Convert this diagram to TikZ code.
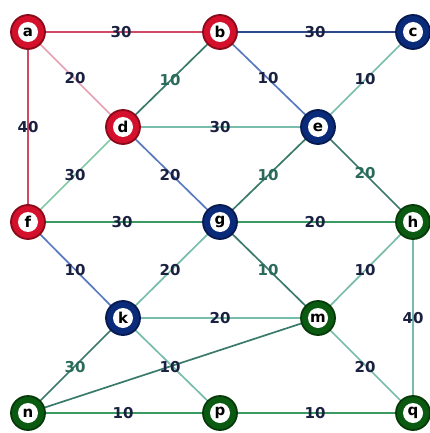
\documentclass[tikz,border=0pt]{standalone}
\usepackage{fontspec}
\setmainfont{DejaVu Sans}
\definecolor{rfill}{HTML}{D4102C}
\definecolor{rbord}{HTML}{8A0A1A}
\definecolor{bfill}{HTML}{0A2A7A}
\definecolor{bbord}{HTML}{061A50}
\definecolor{gfill}{HTML}{0B5A12}
\definecolor{gbord}{HTML}{063A08}
\definecolor{ered}{HTML}{D04A66}
\definecolor{epink}{HTML}{E8A0B2}
\definecolor{edblue}{HTML}{2A4A8A}
\definecolor{eblue}{HTML}{5A7AC0}
\definecolor{eteal}{HTML}{78BCAC}
\definecolor{edteal}{HTML}{3A7A6A}
\definecolor{egreen}{HTML}{3A9A62}
\definecolor{elgreen}{HTML}{84C8A4}
\definecolor{lnavy}{HTML}{1A2040}
\definecolor{lteal}{HTML}{2A6A5A}
\tikzset{
  x=1pt, y=-1pt,
  vert/.style={circle, minimum size=34pt, inner sep=0pt, line width=1.8pt},
  rv/.style={vert, fill=rfill, draw=rbord},
  bv/.style={vert, fill=bfill, draw=bbord},
  gv/.style={vert, fill=gfill, draw=gbord},
  vlab/.style={circle, fill=white, minimum size=20pt, inner sep=0pt,
    font=\bfseries\fontsize{15}{15}\selectfont, text=black},
  lab/.style={font=\bfseries\fontsize{15}{15}\selectfont, text=lnavy, inner sep=0pt},
  labt/.style={lab, text=lteal},
  edge/.style={line width=1.7pt}
}
\begin{document}
\begin{tikzpicture}
\useasboundingbox (0,0) rectangle (430,433);
% coordinates for node centres
\coordinate (A) at (28,32);  \coordinate (B) at (220,32);  \coordinate (C) at (413,32);
\coordinate (D) at (123,127); \coordinate (E) at (318,127);
\coordinate (F) at (28,222); \coordinate (G) at (220,222); \coordinate (H) at (413,222);
\coordinate (K) at (123,318); \coordinate (M) at (318,318);
\coordinate (N) at (28,413); \coordinate (P) at (220,413); \coordinate (Q) at (413,413);
% edges
\draw[edge, ered] (A) -- (B);
\draw[edge, ered] (A) -- (F);
\draw[edge, epink] (A) -- (D);
\draw[edge, edblue] (B) -- (C);
\draw[edge, eblue] (B) -- (E);
\draw[edge, eblue] (D) -- (G);
\draw[edge, eblue] (F) -- (K);
\draw[edge, edteal] (B) -- (D);
\draw[edge, eteal] (C) -- (E);
\draw[edge, eteal] (D) -- (E);
\draw[edge, elgreen] (D) -- (F);
\draw[edge, egreen] (F) -- (G);
\draw[edge, egreen] (G) -- (H);
\draw[edge, edteal] (E) -- (G);
\draw[edge, edteal] (E) -- (H);
\draw[edge, eteal] (G) -- (K);
\draw[edge, edteal] (G) -- (M);
\draw[edge, eteal] (H) -- (M);
\draw[edge, eteal] (H) -- (Q);
\draw[edge, eteal] (M) -- (Q);
\draw[edge, eteal] (K) -- (M);
\draw[edge, edteal] (K) -- (N);
\draw[edge, eteal] (K) -- (P);
\draw[edge, edteal] (N) -- (M);
\draw[edge, egreen] (N) -- (P);
\draw[edge, egreen] (P) -- (Q);
% vertices
\node[rv] (a) at (A) {};
\node[rv] (b) at (B) {};
\node[bv] (c) at (C) {};
\node[rv] (d) at (D) {};
\node[bv] (e) at (E) {};
\node[rv] (f) at (F) {};
\node[bv] (g) at (G) {};
\node[gv] (h) at (H) {};
\node[bv] (k) at (K) {};
\node[gv] (m) at (M) {};
\node[gv] (n) at (N) {};
\node[gv] (p) at (P) {};
\node[gv] (q) at (Q) {};
\foreach \n in {a,b,c,d,e,f,g,h,k,m,n,p,q}
  \node[vlab] (t\n) at (\n.center) {\n};
% weights
\node[lab] (l1) at (121,32) {30};
\node[lab] (l2) at (75,78) {20};
\node[lab] (l3) at (28,127) {40};
\node[lab] (l4) at (315,32) {30};
\node[labt] (l5) at (170,80) {10};
\node[lab] (l6) at (268,78) {10};
\node[lab] (l7) at (365,79) {10};
\node[lab] (l8) at (220,127) {30};
\node[lab] (l9) at (75,175) {30};
\node[lab] (l10) at (170,175) {20};
\node[labt] (l11) at (268,175) {10};
\node[labt] (l12) at (365,173) {20};
\node[lab] (l13) at (122,222) {30};
\node[lab] (l14) at (315,222) {20};
\node[lab] (l15) at (75,270) {10};
\node[lab] (l16) at (170,270) {20};
\node[labt] (l17) at (268,270) {10};
\node[lab] (l18) at (365,270) {10};
\node[lab] (l19) at (413,318) {40};
\node[lab] (l20) at (220,318) {20};
\node[labt] (l21) at (75,367) {30};
\node[lab] (l22) at (170,367) {10};
\node[lab] (l23) at (365,367) {20};
\node[lab] (l24) at (123,413) {10};
\node[lab] (l25) at (315,413) {10};
\end{tikzpicture}
\end{document}
